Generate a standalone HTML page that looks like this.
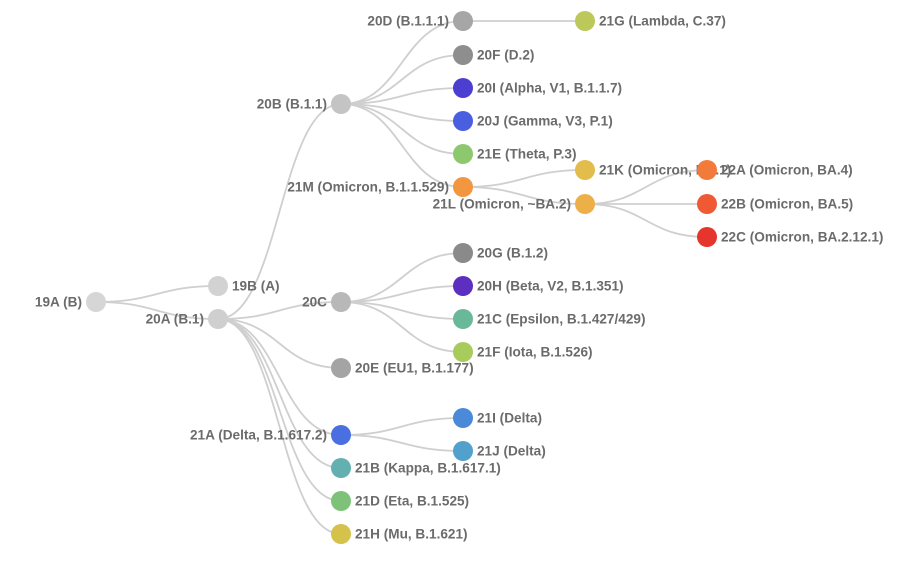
<!DOCTYPE html>
<html><head><style>
body{margin:0;background:#fff}
text{font-family:"Liberation Sans",Arial,sans-serif;font-size:13.6px;font-weight:bold;fill:#6b6b6b}
path{fill:none;stroke:#cfcfcf;stroke-width:1.8}
</style></head><body>
<svg width="924" height="571" id="s"></svg>
<script>
var N={
'19A':[96,302,'#d6d6d6','19A (B)',0],
'19B':[218,286,'#d2d2d2','19B (A)',1],
'20A':[218,319,'#cfcfcf','20A (B.1)',0],
'20B':[341,104,'#c4c4c4','20B (B.1.1)',0],
'20C':[341,302,'#b8b8b8','20C',0],
'20E':[341,368,'#a4a4a4','20E (EU1, B.1.177)',1],
'21A':[341,435,'#4a6fe0','21A (Delta, B.1.617.2)',0],
'21B':[341,468,'#62b0b0','21B (Kappa, B.1.617.1)',1],
'21D':[341,501,'#7ec27a','21D (Eta, B.1.525)',1],
'21H':[341,534,'#d4c24a','21H (Mu, B.1.621)',1],
'20D':[463,21,'#a6a6a6','20D (B.1.1.1)',0],
'20F':[463,55,'#8e8e8e','20F (D.2)',1],
'20I':[463,88,'#4b3ed0','20I (Alpha, V1, B.1.1.7)',1],
'20J':[463,121,'#4a5ee0','20J (Gamma, V3, P.1)',1],
'21E':[463,154,'#8ec86e','21E (Theta, P.3)',1],
'21M':[463,187,'#f39640','21M (Omicron, B.1.1.529)',0],
'21G':[585,21,'#bcc85a','21G (Lambda, C.37)',1],
'21K':[585,170,'#e3bd4c','21K (Omicron, BA.1)',1],
'21L':[585,204,'#edb048','21L (Omicron, ~BA.2)',0],
'22A':[707,170,'#f27a3a','22A (Omicron, BA.4)',1],
'22B':[707,204,'#ef5a34','22B (Omicron, BA.5)',1],
'22C':[707,237,'#e5352c','22C (Omicron, BA.2.12.1)',1],
'20G':[463,253,'#8a8a8a','20G (B.1.2)',1],
'20H':[463,286,'#5c2fc0','20H (Beta, V2, B.1.351)',1],
'21C':[463,319,'#6ab89a','21C (Epsilon, B.1.427/429)',1],
'21F':[463,352,'#a8cc5c','21F (Iota, B.1.526)',1],
'21I':[463,418,'#4a8ad8','21I (Delta)',1],
'21J':[463,451,'#52a0cc','21J (Delta)',1]};
var E=[['19A','19B'],['19A','20A'],['20A','20B'],['20A','20C'],['20A','20E'],['20A','21A'],['20A','21B'],['20A','21D'],['20A','21H'],
['20B','20D'],['20B','20F'],['20B','20I'],['20B','20J'],['20B','21E'],['20B','21M'],['20D','21G'],['21M','21K'],['21M','21L'],
['21L','22A'],['21L','22B'],['21L','22C'],['20C','20G'],['20C','20H'],['20C','21C'],['20C','21F'],['21A','21I'],['21A','21J']];
var s=document.getElementById('s'),h='';
E.forEach(function(e){var a=N[e[0]],b=N[e[1]],m=(a[0]+b[0])/2;
h+='<path d="M'+a[0]+','+a[1]+'C'+m+','+a[1]+' '+m+','+b[1]+' '+b[0]+','+b[1]+'"/>';});
for(var k in N){var n=N[k];
h+='<circle cx="'+n[0]+'" cy="'+n[1]+'" r="10" fill="'+n[2]+'"/>';
h+='<text x="'+(n[0]+(n[4]?14:-14))+'" y="'+(n[1]+4.5)+'" text-anchor="'+(n[4]?'start':'end')+'">'+n[3]+'</text>';}
s.innerHTML=h;
</script>
</body></html>
